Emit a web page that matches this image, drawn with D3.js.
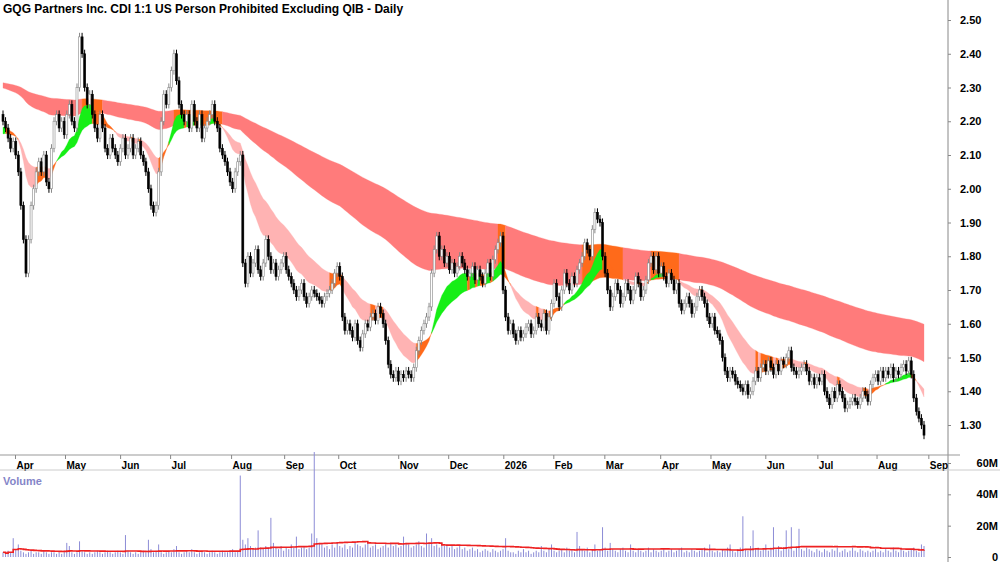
<!DOCTYPE html>
<html><head><meta charset="utf-8">
<script src="https://cdn.jsdelivr.net/npm/d3@7"></script>
<style>body{margin:0;background:#fff}svg{display:block;font-family:Arial,"Liberation Sans",sans-serif}</style>
</head><body><svg id="c" width="1000" height="562"></svg>
<script>
const title = "GQG Partners Inc. CDI 1:1 US Person Prohibited Excluding QIB - Daily";
const closes = [
2.20,2.18,2.15,2.12,2.14,2.10,2.05,
1.95,1.85,1.75,1.85,1.95,2.00,2.05,
2.08,2.05,2.10,2.02,2.00,2.12,
2.20,2.22,2.18,2.20,2.16,2.22,2.25,2.20,2.18,
2.30,2.45,2.40,2.30,2.25,
2.28,2.22,2.18,2.15,2.22,2.18,2.12,2.10,2.15,2.12,2.10,2.08,2.12,2.15,2.10,2.12,2.15,
2.10,2.12,2.14,2.10,2.08,2.05,2.00,1.95,1.93,1.95,
2.05,2.20,2.28,2.25,2.30,2.35,2.40,2.32,2.25,2.22,
2.20,2.22,2.18,2.25,2.20,2.18,2.22,2.15,2.18,2.20,2.22,2.25,2.20,2.18,2.12,2.10,2.08,2.05,2.02,2.00,2.05,2.08,2.10,
1.78,1.72,1.80,1.75,1.78,1.82,1.76,1.74,1.78,1.85,1.80,1.76,1.78,1.74,1.76,1.78,1.80,1.76,1.74,
1.72,1.70,1.68,1.70,1.72,1.68,1.66,1.68,1.70,1.69,1.68,1.67,1.66,1.68,1.69,1.70,1.72,1.75,1.77,1.74,
1.62,1.58,1.60,1.58,1.56,1.60,1.55,1.53,
1.57,1.60,1.59,1.62,1.63,1.61,1.65,1.63,1.60,1.55,
1.48,1.45,1.44,1.46,1.43,1.45,1.44,1.46,1.45,1.44,1.47,1.52,
1.55,1.58,1.60,1.62,1.65,1.75,1.82,1.86,
1.80,1.82,1.78,1.80,1.76,1.78,1.75,1.77,1.80,1.78,1.76,1.74,1.75,1.77,1.73,1.76,1.74,1.72,1.75,1.78,1.74,1.79,1.82,1.84,1.86,
1.70,1.62,1.58,1.60,1.57,1.55,1.58,1.56,1.57,1.59,1.60,1.57,1.58,1.62,1.60,1.59,
1.63,1.58,1.62,1.66,1.72,1.68,1.65,1.70,1.75,1.72,1.70,1.74,
1.72,1.76,1.78,1.80,1.84,1.82,1.80,1.88,1.93,1.91,1.90,1.80,
1.75,1.70,1.65,1.68,1.72,1.70,1.66,1.68,1.72,1.70,1.67,1.70,1.74,1.72,1.68,1.70,1.73,
1.78,1.80,1.76,1.80,1.75,1.77,1.74,1.72,1.75,1.73,1.70,1.72,
1.66,1.64,1.66,1.68,1.66,1.63,1.65,1.68,1.70,1.68,1.66,1.62,
1.60,1.62,1.58,1.57,1.55,1.50,1.46,1.44,1.46,1.45,1.43,1.42,1.41,1.40,1.42,1.39,1.40,1.43,1.46,1.44,
1.47,1.48,1.46,1.49,1.47,1.45,1.48,1.46,1.49,1.48,1.50,1.52,
1.47,1.46,1.45,1.46,1.47,1.48,1.46,1.43,1.44,1.42,1.44,1.43,1.45,1.40,1.38,1.36,1.40,1.38,1.42,1.40,1.38,1.35,1.36,1.37,1.38,
1.37,1.36,1.38,1.40,1.39,1.37,
1.42,1.44,1.45,1.43,1.46,1.44,1.46,1.45,1.47,1.44,1.46,1.45,1.47,1.48,1.46,1.49,
1.45,1.38,1.34,1.32,1.30,1.27];
const volumesM = [
3,2,4,3,12,5,8,4,3,2,3,4,2,3,3,2,4,3,2,3,
3,2,3,2,4,9,7,3,2,3,10,4,3,2,3,2,3,4,3,2,
3,4,3,2,3,4,3,2,14,4,3,2,3,2,3,4,3,11,5,3,
4,8,3,2,3,4,3,5,7,3,2,3,4,3,5,3,2,3,4,3,
2,3,4,3,2,3,4,3,3,4,5,3,4,52,11,8,12,7,5,6,
17,6,5,7,6,25,9,6,5,7,4,6,5,8,6,13,5,6,7,5,
6,15,67,12,9,8,6,7,5,8,6,9,7,6,8,5,7,6,9,8,
7,6,8,9,6,7,8,5,6,7,8,6,9,7,8,6,7,13,9,8,
6,7,8,10,7,6,15,9,12,7,8,6,9,7,8,6,7,5,6,7,
5,6,4,5,6,4,5,3,4,5,4,3,5,4,3,4,5,12,4,3,
3,2,4,3,5,3,4,2,3,4,3,7,4,3,5,8,4,3,4,5,
3,6,4,5,3,16,7,5,4,6,3,5,8,4,5,19,6,4,9,5,
4,3,5,6,4,3,8,4,3,5,4,3,4,6,3,5,4,3,4,5,
3,4,5,3,4,5,6,3,4,3,5,4,3,4,5,6,3,8,4,3,
4,3,5,4,6,8,4,3,5,6,26,5,4,7,17,5,6,4,5,8,
4,6,19,5,7,4,6,17,5,19,4,6,18,5,4,6,5,4,3,5,
4,3,5,4,3,5,4,6,3,4,5,3,4,6,4,3,5,4,3,4,
3,4,5,3,4,3,5,4,3,6,4,3,5,4,3,4,5,6,4,3,
8,7];
const monthLabels = ["Apr","May","Jun","Jul","Aug","Sep","Oct","Nov","Dec","2026","Feb","Mar","Apr","May","Jun","Jul","Aug","Sep"];
const monthTickIdx = [4.7,24.3,45.9,65.5,89.4,110.2,131.4,154.9,174.5,196.1,215.7,235.7,257.6,277.3,298.8,319.2,342.4,362.7];
const priceTicks = [1.3,1.4,1.5,1.6,1.7,1.8,1.9,2.0,2.1,2.2,2.3,2.4,2.5];
const volTicks = [0,20,40,60];
const seeds = {sFast:2.18, sSlow:2.16, lFast:2.30, lSlow:2.315};

const N = closes.length;
const svg = d3.select("#c");
const x = d3.scaleLinear().domain([0, N-1]).range([3, 924]);
const y = d3.scaleLinear().domain([1.3, 2.5]).range([425, 20]);
const yv = d3.scaleLinear().domain([0, 60]).range([557, 463]);
const R = 948;

const bars = closes.map((c,i)=>{
  const o = i===0 ? c+0.02 : closes[i-1];
  return {i, o, c, h: Math.max(o,c)+0.012, l: Math.min(o,c)-0.012};
});
function ema(arr, n, seed){ const k=2/(n+1); let e=seed; return arr.map(v=> e = e + k*(v-e)); }
const sF = ema(closes,14,seeds.sFast), sS = ema(closes,30,seeds.sSlow);
const lF = ema(closes,110,seeds.lFast), lS = ema(closes,220,seeds.lSlow);

function band(a,b,colorFn){
  const g = svg.append("g");
  const area = d3.area().x(d=>x(d[0])).y0(d=>y(d[1])).y1(d=>y(d[2]));
  let start=0;
  for(let i=1;i<=N-1;i++){
    if(i===N-1 || colorFn(i)!==colorFn(start)){
      const pts=[]; for(let j=start;j<=i;j++) pts.push([j,a[j],b[j]]);
      g.append("path").datum(pts).attr("d",area).attr("fill",colorFn(start))
        .attr("stroke",colorFn(start)).attr("stroke-width",0.3);
      start=i;
    }
  }
}
band(lF,lS,i=>{const lo=Math.min(lF[i],lS[i]); return (sF[i]>=lo) ? "#ff6a1a" : "#ff7b7b";});
band(sF,sS,i=>{const hi=Math.max(sF[i],sS[i]), lo=Math.min(sF[i],sS[i]);
  if (sF[i]>sS[i] && closes[i]>hi) return "#16ee16";
  if (closes[i]<lo && sF[i]<sS[i]) return "#ffb3b3";
  return "#ff6a1a";});

const cg = svg.append("g");
bars.forEach(b=>{
  const up = b.c>=b.o, col = up ? "#888" : "#000";
  cg.append("line").attr("x1",x(b.i)).attr("x2",x(b.i)).attr("y1",y(b.h)).attr("y2",y(b.l)).attr("stroke",col).attr("stroke-width",1);
  const top=y(Math.max(b.o,b.c)), h=Math.max(1,Math.abs(y(b.o)-y(b.c)));
  cg.append("rect").attr("x",x(b.i)-1).attr("y",top).attr("width",2).attr("height",h)
    .attr("fill", up? "#fff":"#000").attr("stroke",col).attr("stroke-width",0.6);
});

svg.append("text").attr("x",3).attr("y",13).attr("font-size",12).attr("font-weight","bold").text(title);

svg.append("line").attr("x1",R).attr("x2",R).attr("y1",0).attr("y2",562).attr("stroke","#888");
const pa = svg.append("g").attr("transform",`translate(${R},0)`)
  .call(d3.axisRight(y).tickValues(priceTicks).tickFormat(d3.format(".2f")).tickSize(3));
pa.select(".domain").remove();
pa.selectAll("text").attr("x",12).attr("font-size",11).attr("font-weight","bold").attr("font-family","Arial");
pa.selectAll("line").attr("stroke","#888");

svg.append("line").attr("x1",0).attr("x2",R+12).attr("y1",455).attr("y2",455).attr("stroke","#999");
const xa = svg.append("g").attr("transform","translate(0,455)")
  .call(d3.axisBottom(x).tickValues(monthTickIdx).tickFormat((d,i)=>monthLabels[i]).tickSize(4));
xa.select(".domain").remove();
xa.selectAll("line").attr("stroke","#888");
xa.selectAll("text").attr("font-size",10).attr("font-weight","bold").attr("font-family","Arial")
  .attr("text-anchor","start").attr("dx",1).attr("y",7).attr("fill","#000");

svg.append("line").attr("x1",0).attr("x2",1000).attr("y1",470).attr("y2",470).attr("stroke","#ccc");
svg.append("text").attr("x",3).attr("y",485).attr("font-size",11).attr("font-weight","bold").attr("fill","#8585c8").text("Volume");
const vg = svg.append("g");
volumesM.forEach((v,i)=>{
  vg.append("line").attr("x1",x(i)).attr("x2",x(i)).attr("y1",yv(0)).attr("y2",yv(v)).attr("stroke","#8c8cd6").attr("stroke-width",1);
});
const vavg = volumesM.map((v,i)=>d3.mean(volumesM.slice(Math.max(0,i-49),i+1)));
svg.append("path").datum(vavg).attr("d",d3.line().x((d,i)=>x(i)).y(d=>yv(d)).curve(d3.curveStepAfter))
  .attr("fill","none").attr("stroke","#ee2222").attr("stroke-width",1.6);
const va = svg.append("g").attr("transform",`translate(${R},0)`)
  .call(d3.axisRight(yv).tickValues(volTicks).tickFormat(d=>d===0?"0":d+"M").tickSize(3));
va.select(".domain").remove();
va.selectAll("line").attr("stroke","#888");
va.selectAll("text").attr("x",50).attr("text-anchor","end").attr("font-size",11).attr("font-weight","bold").attr("font-family","Arial");
</script></body></html>
